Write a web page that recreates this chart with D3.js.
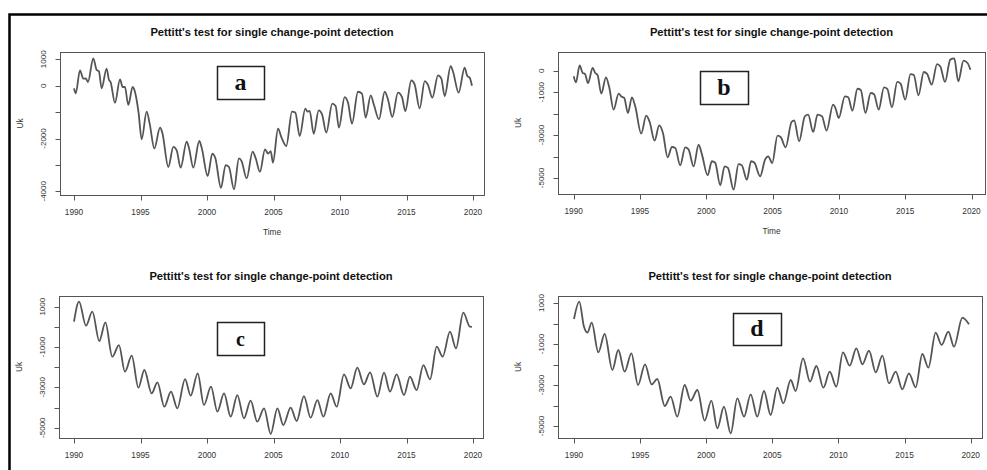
<!DOCTYPE html>
<html>
<head>
<meta charset="utf-8">
<script src="https://cdn.jsdelivr.net/npm/d3@7"></script>
<style>
  body { margin: 0; background: #fff; }
  svg { font-family: "Liberation Sans", Arial, sans-serif; }
</style>
</head>
<body>
<script>
// valeurs : [annee, Uk]
var seriesA = [[1990.00,-100],[1990.13,-290],[1990.45,580],[1990.70,265],[1990.88,280],[1991.05,140],[1991.45,1035],[1991.70,600],[1991.87,550],[1992.08,-100],[1992.45,650],[1992.63,215],[1992.75,140],[1993.08,-645],[1993.46,240],[1993.66,-50],[1993.83,-50],[1994.08,-730],[1994.41,-50],[1994.60,-265],[1994.85,-1000],[1995.09,-2030],[1995.46,-985],[1995.70,-1465],[1996.04,-2375],[1996.47,-1590],[1996.64,-1780],[1997.09,-3080],[1997.47,-2320],[1997.72,-2450],[1998.02,-3105],[1998.47,-2120],[1998.64,-2350],[1998.97,-3105],[1999.42,-2095],[1999.60,-2350],[2000.05,-3420],[2000.40,-2575],[2000.62,-2730],[2001.05,-3865],[2001.40,-3005],[2001.65,-3080],[2002.03,-3925],[2002.40,-2750],[2002.60,-2855],[2002.98,-3510],[2003.43,-2500],[2003.65,-2730],[2003.98,-3260],[2004.36,-2410],[2004.60,-2575],[2004.79,-2475],[2004.96,-2915],[2005.34,-1630],[2005.59,-1945],[2005.96,-2285],[2006.39,-985],[2006.64,-1020],[2006.97,-1905],[2007.39,-870],[2007.55,-985],[2007.72,-950],[2008.02,-1820],[2008.40,-935],[2008.65,-1085],[2008.97,-1780],[2009.42,-680],[2009.67,-770],[2009.92,-1590],[2010.35,-430],[2010.60,-640],[2010.90,-1440],[2011.35,-230],[2011.65,-300],[2011.93,-1210],[2012.31,-365],[2012.56,-740],[2012.93,-1275],[2013.36,-230],[2013.61,-520],[2013.93,-1185],[2014.36,-265],[2014.66,-430],[2014.91,-960],[2015.36,205],[2015.61,50],[2015.99,-860],[2016.37,175],[2016.62,20],[2016.94,-455],[2017.37,390],[2017.62,270],[2017.87,-390],[2018.32,745],[2018.50,530],[2018.92,-265],[2019.37,680],[2019.57,365],[2019.75,305],[2019.92,0]];

var seriesB = [[1990.00,-260],[1990.17,-540],[1990.45,250],[1990.68,-110],[1990.85,-150],[1991.08,-575],[1991.43,125],[1991.63,-110],[1991.80,-200],[1992.08,-1070],[1992.43,-310],[1992.68,-775],[1993.01,-1815],[1993.39,-1070],[1993.60,-1200],[1993.81,-1270],[1994.09,-1970],[1994.39,-1240],[1994.64,-1660],[1995.09,-2935],[1995.47,-2095],[1995.73,-2390],[1996.10,-3260],[1996.45,-2545],[1996.73,-2900],[1997.08,-4035],[1997.41,-3555],[1997.66,-3600],[1998.03,-4410],[1998.41,-3570],[1998.66,-3665],[1999.04,-4455],[1999.42,-3450],[1999.67,-3900],[2000.10,-4875],[2000.42,-4220],[2000.67,-4290],[2001.05,-5340],[2001.38,-4455],[2001.63,-4530],[2002.06,-5545],[2002.43,-4350],[2002.68,-4410],[2003.06,-5080],[2003.38,-4220],[2003.63,-4290],[2004.06,-4920],[2004.44,-4130],[2004.67,-3990],[2004.97,-4300],[2005.37,-3030],[2005.62,-3100],[2005.98,-3570],[2006.43,-2390],[2006.63,-2320],[2007.00,-3290],[2007.43,-2125],[2007.68,-2050],[2008.06,-2855],[2008.39,-2050],[2008.72,-2120],[2009.07,-2795],[2009.56,-1585],[2009.74,-1740],[2009.99,-2205],[2010.45,-1195],[2010.70,-1240],[2011.02,-1865],[2011.40,-840],[2011.65,-900],[2012.00,-1970],[2012.40,-1040],[2012.65,-1100],[2013.00,-1815],[2013.40,-775],[2013.65,-850],[2014.00,-1705],[2014.40,-525],[2014.65,-600],[2015.00,-1350],[2015.40,-155],[2015.65,-200],[2016.00,-1150],[2016.40,-60],[2016.65,-150],[2017.00,-650],[2017.40,310],[2017.65,200],[2018.00,-525],[2018.40,515],[2018.70,570],[2019.00,-495],[2019.40,465],[2019.70,360],[2019.92,45]];

var seriesC = [[1990.00,256],[1990.38,1248],[1990.90,58],[1991.38,752],[1991.90,-702],[1992.36,223],[1992.88,-1479],[1993.38,-901],[1993.83,-2223],[1994.34,-1430],[1994.84,-3017],[1995.29,-2140],[1995.84,-3298],[1996.27,-2752],[1996.79,-3959],[1997.29,-3215],[1997.77,-4041],[1998.35,-2587],[1998.77,-3413],[1999.30,-2306],[1999.77,-3876],[2000.30,-2967],[2000.78,-4207],[2001.28,-3298],[2001.78,-4455],[2002.28,-3380],[2002.78,-4537],[2003.28,-3661],[2003.78,-4702],[2004.29,-4041],[2004.79,-5314],[2005.29,-4041],[2005.74,-4868],[2006.29,-4008],[2006.74,-4669],[2007.29,-3430],[2007.79,-4504],[2008.30,-3628],[2008.75,-4455],[2009.30,-3298],[2009.75,-3959],[2010.30,-2355],[2010.80,-3050],[2011.30,-2025],[2011.80,-2851],[2012.26,-2256],[2012.81,-3463],[2013.31,-2273],[2013.76,-3215],[2014.26,-2355],[2014.81,-3380],[2015.26,-2471],[2015.76,-3132],[2016.27,-1893],[2016.77,-2603],[2017.27,-983],[2017.72,-1479],[2018.27,-240],[2018.72,-1066],[2019.27,702],[2019.77,8],[2019.92,0]];

var seriesD = [[1990.00,220],[1990.40,1065],[1990.75,-150],[1991.01,-447],[1991.34,40],[1991.84,-1407],[1992.32,-512],[1992.90,-2268],[1993.35,-1293],[1993.83,-2350],[1994.34,-1455],[1994.84,-3000],[1995.37,-1992],[1995.87,-2967],[1996.30,-2707],[1996.86,-4024],[1997.31,-3569],[1997.81,-4545],[1998.37,-3000],[1998.82,-3764],[1999.33,-3244],[1999.88,-4740],[2000.39,-3764],[2000.84,-5114],[2001.34,-4057],[2001.85,-5358],[2002.35,-3650],[2002.86,-4545],[2003.36,-3455],[2003.86,-4545],[2004.37,-3293],[2004.87,-4463],[2005.38,-3130],[2005.83,-3894],[2006.39,-2756],[2006.76,-3293],[2007.32,-1699],[2007.85,-2837],[2008.33,-2073],[2008.86,-3130],[2009.34,-2350],[2009.84,-3081],[2010.34,-1407],[2010.85,-2057],[2011.35,-1211],[2011.81,-1992],[2012.31,-1325],[2012.82,-2382],[2013.32,-1569],[2013.82,-2919],[2014.33,-2350],[2014.83,-3211],[2015.33,-2431],[2015.84,-3114],[2016.34,-1488],[2016.80,-2154],[2017.35,-447],[2017.80,-1049],[2018.31,-398],[2018.74,-1130],[2019.37,285],[2019.87,-41]];

// graduations
var xTicks = [1990, 1995, 2000, 2005, 2010, 2015, 2020];
var yTicksA = [1000, 0, -1000, -2000, -3000, -4000];
var yLabelsA = [1000, 0, -2000, -4000];
var yTicksB = [0, -1000, -2000, -3000, -4000, -5000];
var yLabelsB = [0, -1000, -3000, -5000];
var yTicksCD = [1000, 0, -1000, -2000, -3000, -4000, -5000];
var yLabelsCD = [1000, -1000, -3000, -5000];

var titre = "Pettitt's test for single change-point detection";

var width = 987,
    height = 470;

var svg = d3.select("body")
    .append("svg")
    .attr("width", width)
    .attr("height", height);

// cadre noir autour de la figure
svg.append("path")
    .attr("d", "M9.5,470 L9.5,14.5 L987,14.5")
    .attr("fill", "none")
    .attr("stroke", "#000")
    .attr("stroke-width", 2.5);

// placement des 4 graphiques (box = gauche, droite, haut, bas)
var panels = [
    { lettre: "a", data: seriesA, yTicks: yTicksA, yLabels: yLabelsA, box: [60, 484, 52, 195],
      xPx: [74, 473], yRef: [1000, -4000], yPx: [59.3, 191.3], tag: [217, 66, 47, 33], tagSize: 24, time: true },
    { lettre: "b", data: seriesB, yTicks: yTicksB, yLabels: yLabelsB, box: [558, 985, 52, 194],
      xPx: [573.7, 971.5], yRef: [0, -5000], yPx: [70.7, 178], tag: [700, 71, 48, 33], tagSize: 24, time: true },
    { lettre: "c", data: seriesC, yTicks: yTicksCD, yLabels: yLabelsCD, box: [59, 483, 296, 438],
      xPx: [74, 473], yRef: [1000, -5000], yPx: [306.7, 427.7], tag: [217, 322, 47, 33], tagSize: 20, time: false },
    { lettre: "d", data: seriesD, yTicks: yTicksCD, yLabels: yLabelsCD, box: [558, 982, 296, 438],
      xPx: [574, 970.7], yRef: [1000, -5000], yPx: [303, 426], tag: [733, 313, 48, 32], tagSize: 24, time: false }
];

panels.forEach(function (p) {
    var g = svg.append("g");
    var left = p.box[0], right = p.box[1], top = p.box[2], bottom = p.box[3];

    var x = d3.scaleLinear().domain([1990, 2020]).range(p.xPx);
    var y = d3.scaleLinear().domain(p.yRef).range(p.yPx);

    // titre
    g.append("text")
        .attr("x", (left + right) / 2)
        .attr("y", top - 16)
        .attr("text-anchor", "middle")
        .attr("font-size", 11.2)
        .attr("font-weight", "bold")
        .attr("fill", "#111")
        .text(titre);

    // la courbe
    var line = d3.line()
        .x(function (d) { return x(d[0]); })
        .y(function (d) { return y(d[1]); })
        .curve(d3.curveMonotoneX);

    g.append("path")
        .datum(p.data)
        .attr("d", line)
        .attr("fill", "none")
        .attr("stroke", "#555")
        .attr("stroke-width", 1.8)
        .attr("stroke-linejoin", "round");

    // boite
    g.append("rect")
        .attr("x", left + 0.5)
        .attr("y", top + 0.5)
        .attr("width", right - left)
        .attr("height", bottom - top)
        .attr("fill", "none")
        .attr("stroke", "#555")
        .attr("stroke-width", 1);

    // axe x
    g.selectAll(".xt").data(xTicks).join("line")
        .attr("x1", function (d) { return Math.round(x(d)) + 0.5; })
        .attr("x2", function (d) { return Math.round(x(d)) + 0.5; })
        .attr("y1", bottom + 0.5)
        .attr("y2", bottom + 5.5)
        .attr("stroke", "#555");

    g.selectAll(".xl").data(xTicks).join("text")
        .attr("x", function (d) { return x(d); })
        .attr("y", bottom + 20)
        .attr("text-anchor", "middle")
        .attr("font-size", 8.3)
        .attr("fill", "#333")
        .text(function (d) { return d; });

    // axe y
    g.selectAll(".yt").data(p.yTicks).join("line")
        .attr("x1", left + 0.5)
        .attr("x2", left - 4.5)
        .attr("y1", function (d) { return Math.round(y(d)) + 0.5; })
        .attr("y2", function (d) { return Math.round(y(d)) + 0.5; })
        .attr("stroke", "#555");

    g.selectAll(".yl").data(p.yLabels).join("text")
        .attr("transform", function (d) { return "translate(" + (left - 14) + "," + y(d) + ") rotate(-90)"; })
        .attr("text-anchor", "middle")
        .attr("font-size", 8)
        .attr("fill", "#333")
        .text(function (d) { return String(d); });

    // titres d'axes
    g.append("text")
        .attr("transform", "translate(" + (left - 37) + "," + ((top + bottom) / 2) + ") rotate(-90)")
        .attr("text-anchor", "middle")
        .attr("font-size", 8.3)
        .attr("fill", "#333")
        .text("Uk");

    if (p.time) {
        g.append("text")
            .attr("x", (left + right) / 2)
            .attr("y", bottom + 40)
            .attr("text-anchor", "middle")
            .attr("font-size", 8.3)
            .attr("fill", "#333")
            .text("Time");
    }

    // etiquette a, b, c, d
    g.append("rect")
        .attr("x", p.tag[0] + 0.5)
        .attr("y", p.tag[1] + 0.5)
        .attr("width", p.tag[2])
        .attr("height", p.tag[3])
        .attr("fill", "#fff")
        .attr("stroke", "#222")
        .attr("stroke-width", 1.5);

    g.append("text")
        .attr("x", p.tag[0] + p.tag[2] / 2)
        .attr("y", p.tag[1] + p.tag[3] / 2 + 7)
        .attr("text-anchor", "middle")
        .attr("font-family", "'Liberation Serif', 'Times New Roman', serif")
        .attr("font-size", p.tagSize)
        .attr("font-weight", "bold")
        .attr("fill", "#111")
        .text(p.lettre);
});
</script>
</body>
</html>
